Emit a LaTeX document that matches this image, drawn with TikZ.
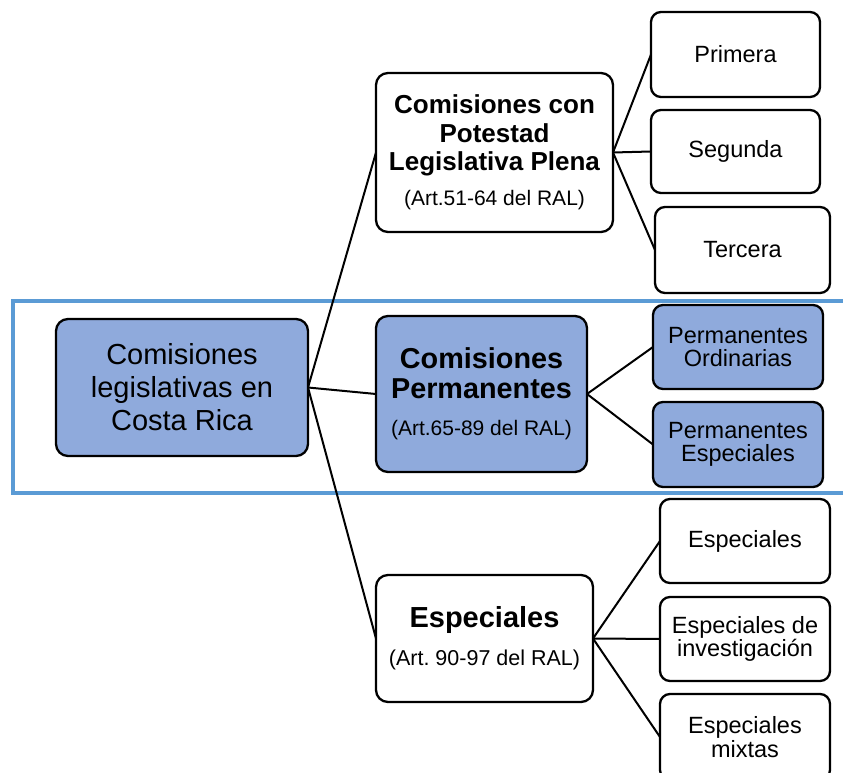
\documentclass[tikz,border=0pt]{standalone}
\usepackage{fontspec}
\setmainfont{Liberation Sans}
\definecolor{nodeblue}{RGB}{143,170,220}
\definecolor{bandblue}{RGB}{91,155,213}
\tikzset{
  box/.style={draw=black, line width=2.3pt, rounded corners=12pt, align=center, inner sep=0pt, outer sep=0pt, fill=white},
  leaf/.style={box, rounded corners=10pt, font=\fontsize{23.5}{23.5}\selectfont},
  blue/.style={fill=nodeblue},
  link/.style={draw=black, line width=2pt},
}
\begin{document}
\begin{tikzpicture}[x=1pt,y=-1pt]
\useasboundingbox (0,0) rectangle (843,773);
\clip (0,0) rectangle (843,773);
% band
\draw[bandblue, line width=4pt] (13,301) rectangle (860,493);
% root
\node[box, blue, minimum width=252pt, minimum height=137pt, font=\fontsize{29}{33}\selectfont] (root) at (182,387.5) {Comisiones\\legislativas en\\Costa Rica};
% level 2
\node[box, minimum width=237pt, minimum height=159pt, font=\fontsize{26}{28.5}\selectfont] (pot) at (494.5,152.5)
  {\textbf{Comisiones con}\\\textbf{Potestad}\\\textbf{Legislativa Plena}\\[6.5pt]{\fontsize{21}{28.5}\selectfont (Art.51-64 del RAL)}};
\node[box, blue, minimum width=211pt, minimum height=156pt, font=\fontsize{28.8}{30}\selectfont] (perm) at (481.5,394)
  {\textbf{Comisiones}\\\textbf{Permanentes}\\[7pt]{\fontsize{21}{30}\selectfont (Art.65-89 del RAL)}};
\node[box, minimum width=217pt, minimum height=127pt, font=\fontsize{29}{30}\selectfont] (esp) at (484.5,638.5)
  {\textbf{Especiales}\\[8pt]{\fontsize{21.5}{30}\selectfont (Art.\ 90-97 del RAL)}};
% level 3
\node[leaf, minimum width=169pt, minimum height=85pt] (pri) at (735.5,54.5) {Primera};
\node[leaf, minimum width=169pt, minimum height=83pt] (seg) at (735.5,151.5) {Segunda};
\node[leaf, minimum width=175pt, minimum height=86pt] (ter) at (742.5,250) {Tercera};
\node[leaf, blue, minimum width=170pt, minimum height=84pt] (po) at (738,347) {Permanentes\\Ordinarias};
\node[leaf, blue, minimum width=170pt, minimum height=85pt] (pe) at (738,444.5) {Permanentes\\Especiales};
\node[leaf, minimum width=170pt, minimum height=84pt] (e1) at (745,541) {Especiales};
\node[leaf, minimum width=170pt, minimum height=84pt] (e2) at (745,639) {Especiales de\\investigación};
\node[leaf, minimum width=170pt, minimum height=86pt] (e3) at (745,737) {Especiales\\mixtas};
% connectors
\draw[link] (root.east) -- (pot.west);
\draw[link] (root.east) -- (perm.west);
\draw[link] (root.east) -- (esp.west);
\draw[link] (pot.east) -- (pri.west);
\draw[link] (pot.east) -- (seg.west);
\draw[link] (pot.east) -- (ter.west);
\draw[link] (perm.east) -- (po.west);
\draw[link] (perm.east) -- (pe.west);
\draw[link] (esp.east) -- (e1.west);
\draw[link] (esp.east) -- (e2.west);
\draw[link] (esp.east) -- (e3.west);
\end{tikzpicture}
\end{document}
